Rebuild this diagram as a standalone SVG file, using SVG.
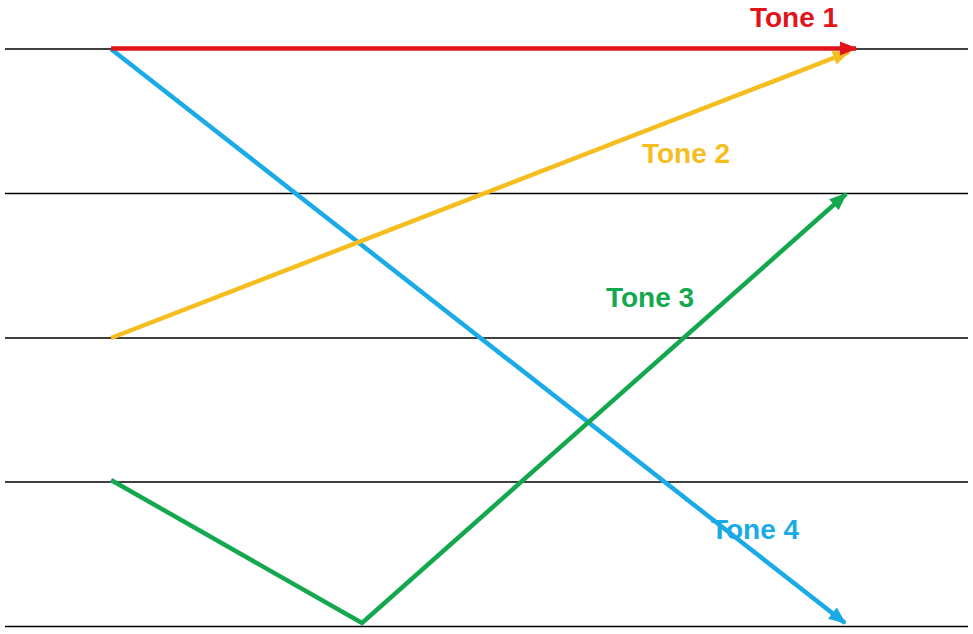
<svg xmlns="http://www.w3.org/2000/svg" width="973" height="634" viewBox="0 0 973 634">
<style>
.h{stroke:#000;stroke-width:1.5}
.c{fill:none;stroke-width:4.5;stroke-linejoin:miter}
.t{font-family:"Liberation Sans",Arial,sans-serif;font-size:28px;font-weight:bold;text-anchor:middle}
</style>
<defs>
<marker id="mr" viewBox="0 0 10 10" refX="9" refY="5" markerWidth="4" markerHeight="3.2" orient="auto" markerUnits="strokeWidth" preserveAspectRatio="none"><path d="M0,0L10,5L0,10z" fill="#E2141A"/></marker>
<marker id="my" viewBox="0 0 10 10" refX="9" refY="5" markerWidth="4" markerHeight="3.2" orient="auto" markerUnits="strokeWidth" preserveAspectRatio="none"><path d="M0,0L10,5L0,10z" fill="#F5BE1E"/></marker>
<marker id="mg" viewBox="0 0 10 10" refX="9" refY="5" markerWidth="4" markerHeight="3.2" orient="auto" markerUnits="strokeWidth" preserveAspectRatio="none"><path d="M0,0L10,5L0,10z" fill="#14A84E"/></marker>
<marker id="mb" viewBox="0 0 10 10" refX="9" refY="5" markerWidth="4" markerHeight="3.2" orient="auto" markerUnits="strokeWidth" preserveAspectRatio="none"><path d="M0,0L10,5L0,10z" fill="#1AAAE6"/></marker>
</defs>
<g id="grid">
<line class="h" x1="5" y1="49" x2="968" y2="49"/>
<line class="h" x1="5" y1="193.5" x2="968" y2="193.5"/>
<line class="h" x1="5" y1="338" x2="968" y2="338"/>
<line class="h" x1="5" y1="482" x2="968" y2="482"/>
<line class="h" x1="5" y1="626.5" x2="968" y2="626.5"/>
</g>
<g id="connectors">
<polyline class="c" stroke="#1AAAE6" points="111,49 845,623" marker-end="url(#mb)"/>
<polyline class="c" stroke="#F5BE1E" points="111,338 849,52" marker-end="url(#my)"/>
<polyline class="c" stroke="#14A84E" points="111,480 362,623 846,194" marker-end="url(#mg)"/>
<polyline class="c" stroke="#E2141A" points="111,48.5 856,48.5" marker-end="url(#mr)"/>
</g>
<g id="tone1"><text class="t" x="794" y="27" fill="#E2141A">Tone 1</text></g>
<g id="tone2"><text class="t" x="686" y="163" fill="#F5BE1E">Tone 2</text></g>
<g id="tone3"><text class="t" x="650" y="307" fill="#14A84E">Tone 3</text></g>
<g id="tone4"><text class="t" x="755" y="539" fill="#1AAAE6">Tone 4</text></g>
</svg>
